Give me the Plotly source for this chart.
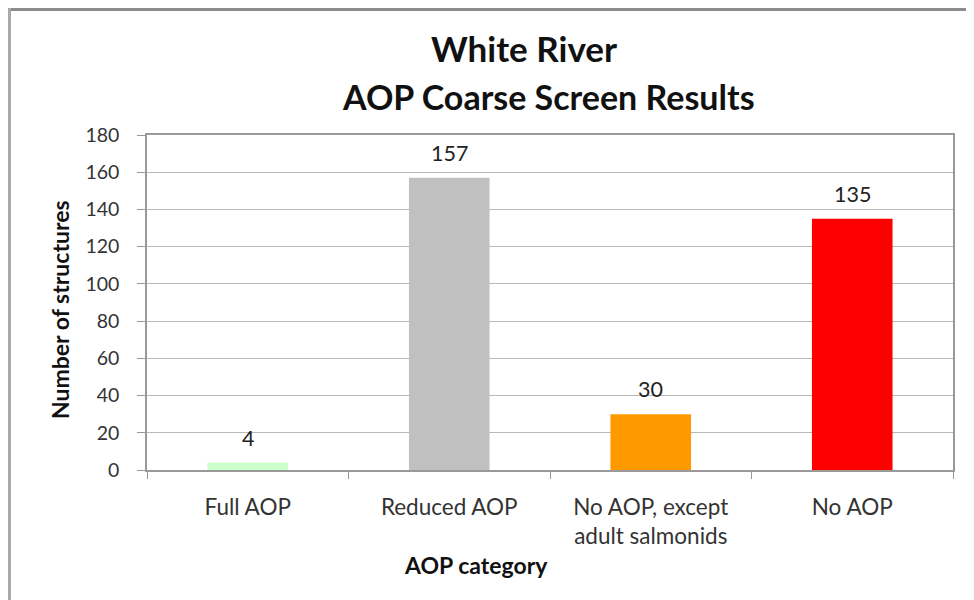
import plotly.graph_objects as go

categories = ["Full AOP", "Reduced AOP", "No AOP, except<br>adult salmonids", "No AOP"]
values = [4, 157, 30, 135]
colors = ["#ccffcc", "#c0c0c0", "#ff9900", "#ff0000"]
yticks = [0, 20, 40, 60, 80, 100, 120, 140, 160, 180]

FONT = "Lato, Open Sans, sans-serif"

# plot area in figure pixels: x 139..945, y 127..462 (page is offset by the 8px body margin)
L, R, T, B = 139, 29, 127, 138
W, H = 974, 600
PW, PH = W - L - R, H - T - B


def px(fx):
    return (fx - L) / PW


def py(fy):
    return (H - B - fy) / PH


fig = go.Figure()
fig.add_trace(go.Bar(
    x=categories, y=values,
    marker=dict(color=colors, line=dict(width=0)),
    width=0.4,
    cliponaxis=False,
))

annotations = []
for c, v in zip(categories, values):
    annotations.append(dict(
        x=c, y=v, xref="x", yref="y", text=str(v), showarrow=False,
        yanchor="bottom", yshift=10,
        font=dict(size=21.5, color="#222222", family=FONT),
    ))

annotations += [
    dict(text="<b>White River</b>", xref="paper", yref="paper", x=px(516), y=py(40),
         xanchor="center", yanchor="middle", showarrow=False,
         font=dict(size=35, color="#111111", family=FONT)),
    dict(text="<b>AOP Coarse Screen Results</b>", xref="paper", yref="paper", x=px(540), y=py(89),
         xanchor="center", yanchor="middle", showarrow=False,
         font=dict(size=34, color="#111111", family=FONT)),
    dict(text="<b>AOP category</b>", xref="paper", yref="paper", x=px(468), y=py(557),
         xanchor="center", yanchor="middle", showarrow=False,
         font=dict(size=23, color="#111111", family=FONT)),
    dict(text="<b>Number of structures</b>", xref="paper", yref="paper", x=px(52), y=py(302),
         xanchor="center", yanchor="middle", showarrow=False, textangle=-90,
         font=dict(size=23, color="#111111", family=FONT)),
]

fig.update_layout(
    width=W, height=H,
    margin=dict(l=L, r=R, t=T, b=B),
    paper_bgcolor="white", plot_bgcolor="white",
    showlegend=False,
    font=dict(family=FONT, color="#333333"),
    xaxis=dict(
        type="category",
        tickson="boundaries",
        ticks="outside", ticklen=7, tickcolor="#999999",
        showline=True, linecolor="#999999", linewidth=1.5,
        mirror=True,
        showgrid=False,
        tickfont=dict(size=22.5, color="#333333"),
        ticklabelstandoff=16,
    ),
    yaxis=dict(
        range=[0, 180],
        tickvals=yticks,
        ticks="outside", ticklen=8, tickcolor="#999999",
        showline=True, linecolor="#999999", linewidth=1.5,
        mirror=True,
        showgrid=True, gridcolor="#b8b8b8", gridwidth=1.2,
        tickfont=dict(size=19.5, color="#333333"),
        ticklabelstandoff=14,
        zeroline=False,
    ),
    annotations=annotations,
    shapes=[
        dict(type="line", xref="paper", yref="paper", x0=px(-1), x1=px(962), y0=py(1.5), y1=py(1.5),
             line=dict(color="#8c8c8c", width=3)),
        dict(type="line", xref="paper", yref="paper", x0=px(1.5), x1=px(1.5), y0=py(0), y1=py(600),
             line=dict(color="#aaaaaa", width=3)),
    ],
)

fig.write_html("out.html")
